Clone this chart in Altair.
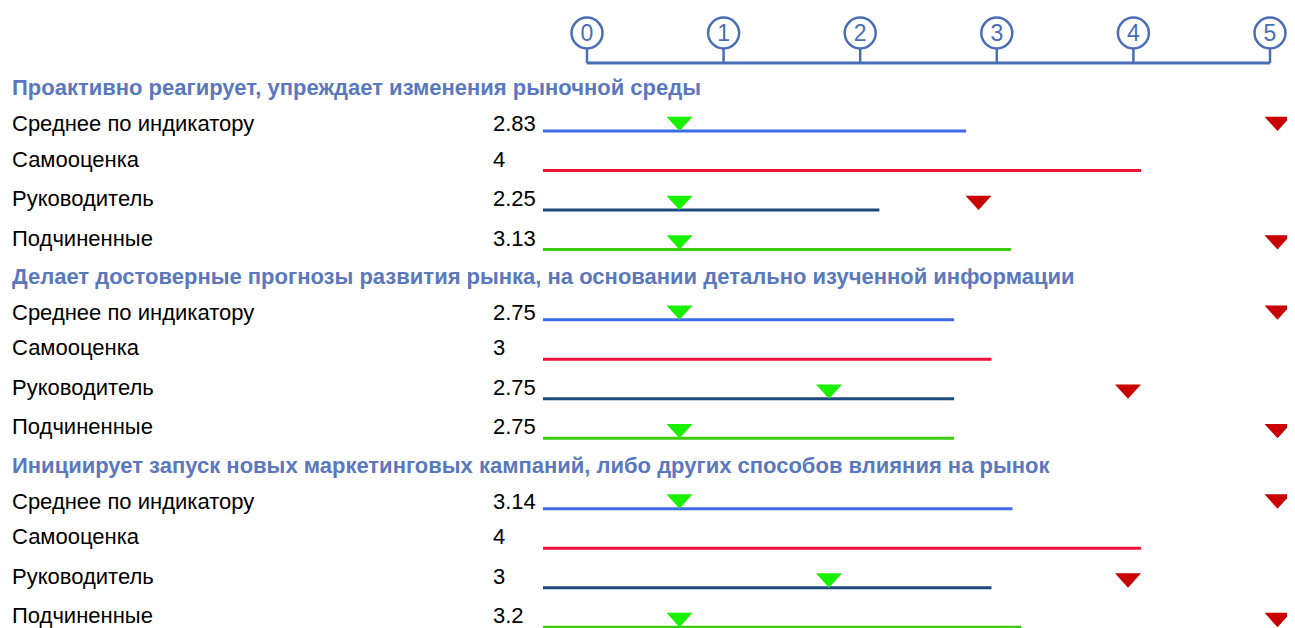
import altair as alt
import pandas as pd

# ---------------- data ----------------
groups = [
    "Проактивно реагирует, упреждает изменения рыночной среды",
    "Делает достоверные прогнозы развития рынка, на основании детально изученной информации",
    "Инициирует запуск новых маркетинговых кампаний, либо других способов влияния на рынок",
]
row_labels = ["Среднее по индикатору", "Самооценка", "Руководитель", "Подчиненные"]
values = [
    [2.83, 4, 2.25, 3.13],
    [2.75, 3, 2.75, 2.75],
    [3.14, 4, 3, 3.2],
]
mins = [
    [1, None, 1, 1],
    [1, None, 2, 1],
    [1, None, 2, 1],
]
maxs = [
    [5, None, 3, 5],
    [5, None, 4, 5],
    [5, None, 4, 5],
]
axis_ticks = [0, 1, 2, 3, 4, 5]

# ---------------- styling ----------------
row_colors = ["#3D6BE8", "#F0103C", "#1B4A80", "#3CCC0E"]
HEADER_COLOR = "#5A78BE"
AXIS_COLOR = "#4A6DB6"
MIN_COLOR = "#19F000"
MAX_COLOR = "#C80000"
FONT = "Liberation Sans"

GROUP_STEP = 4.78
HEADER_OFFSET = -0.9

W, H = 1279, 620

rows = []
for g in range(len(groups)):
    for r, lab in enumerate(row_labels):
        rows.append(dict(group=g, row=r, label=lab, value=values[g][r],
                         vmin=mins[g][r], vmax=maxs[g][r], pos=g * GROUP_STEP + r))
df = pd.DataFrame(rows)
hdf = pd.DataFrame(dict(title=groups, pos=[g * GROUP_STEP + HEADER_OFFSET for g in range(len(groups))]))
adf = pd.DataFrame(dict(tick=axis_ticks, label=[str(t) for t in axis_ticks]))

xscale = alt.Scale(domain=[-3.5786, 4.9766], nice=False, zero=False)
yscale = alt.Scale(domain=[-3.1139, 12.582], nice=False, zero=False, reverse=True)
ascale = alt.Scale(domain=[-4.2387, 5.1245], nice=False, zero=False)

Y = alt.Y("pos:Q", scale=yscale, axis=None)

base = alt.Chart(df)

lines = base.mark_rule(strokeWidth=3).encode(
    x=alt.X("zero:Q", scale=xscale, axis=None),
    x2="value:Q",
    y=Y,
    color=alt.Color("label:N", scale=alt.Scale(domain=row_labels, range=row_colors), legend=None),
).transform_calculate(zero="0")

tri_path = "M-2,-1.1L0,-1.1L-1,0Z"
min_tri = base.transform_filter("isValid(datum.vmin)").mark_point(
    shape=tri_path, size=676, filled=True, color=MIN_COLOR, opacity=1, strokeWidth=0
).encode(x=alt.X("vmin:Q", scale=xscale, axis=None), y=Y)
max_tri = base.transform_filter("isValid(datum.vmax)").mark_point(
    shape=tri_path, size=676, filled=True, color=MAX_COLOR, opacity=1, strokeWidth=0
).encode(x=alt.X("vmax:Q", scale=xscale, axis=None), y=Y)


def text_layers(first):
    src = base.transform_filter("datum.row == 0" if first else "datum.row > 0")
    dy = 0 if first else -4
    lab = src.mark_text(align="left", baseline="alphabetic", dy=dy, fontSize=22,
                        font=FONT, color="black").encode(x=alt.value(4), y=Y, text="label:N")
    val = src.mark_text(align="left", baseline="alphabetic", dy=dy, fontSize=22,
                        font=FONT, color="black").encode(x=alt.value(485), y=Y,
                                                         text=alt.Text("value:Q"))
    return [lab, val]


head_text = alt.Chart(hdf).mark_text(align="left", baseline="alphabetic", fontSize=22,
                                     fontWeight="bold", font=FONT, color=HEADER_COLOR).encode(
    x=alt.value(4), y=Y, text="title:N")

abase = alt.Chart(adf)
axis_line = abase.mark_rule(strokeWidth=3, color=AXIS_COLOR).encode(
    x=alt.X("min(tick):Q", scale=ascale, axis=None), x2="max(tick):Q", y=alt.value(55))
axis_ticks_m = abase.mark_rule(strokeWidth=2.5, color=AXIS_COLOR).encode(
    x=alt.X("tick:Q", scale=ascale, axis=None), y=alt.value(41), y2=alt.value(55))
circles = abase.mark_point(shape="circle", size=961, filled=True, fill="white",
                           stroke=AXIS_COLOR, strokeWidth=2.5, opacity=1).encode(
    x=alt.X("tick:Q", scale=ascale, axis=None), y=alt.value(25))
digits = abase.mark_text(fontSize=23, font=FONT, color=AXIS_COLOR, align="center",
                         baseline="middle", dy=1).encode(
    x=alt.X("tick:Q", scale=ascale, axis=None), y=alt.value(25), text="label:N")

axis_layer = alt.layer(axis_line, axis_ticks_m, circles, digits)
data_layer = alt.layer(lines, min_tri, max_tri, *text_layers(True), *text_layers(False), head_text)

chart = alt.layer(data_layer, axis_layer).resolve_scale(x="independent").properties(
    width=W, height=H, padding=0,
    autosize=alt.AutoSizeParams(type="none"),
).configure_view(stroke=None)

chart.save("out.html", embed_options={"renderer": "svg", "actions": False})
